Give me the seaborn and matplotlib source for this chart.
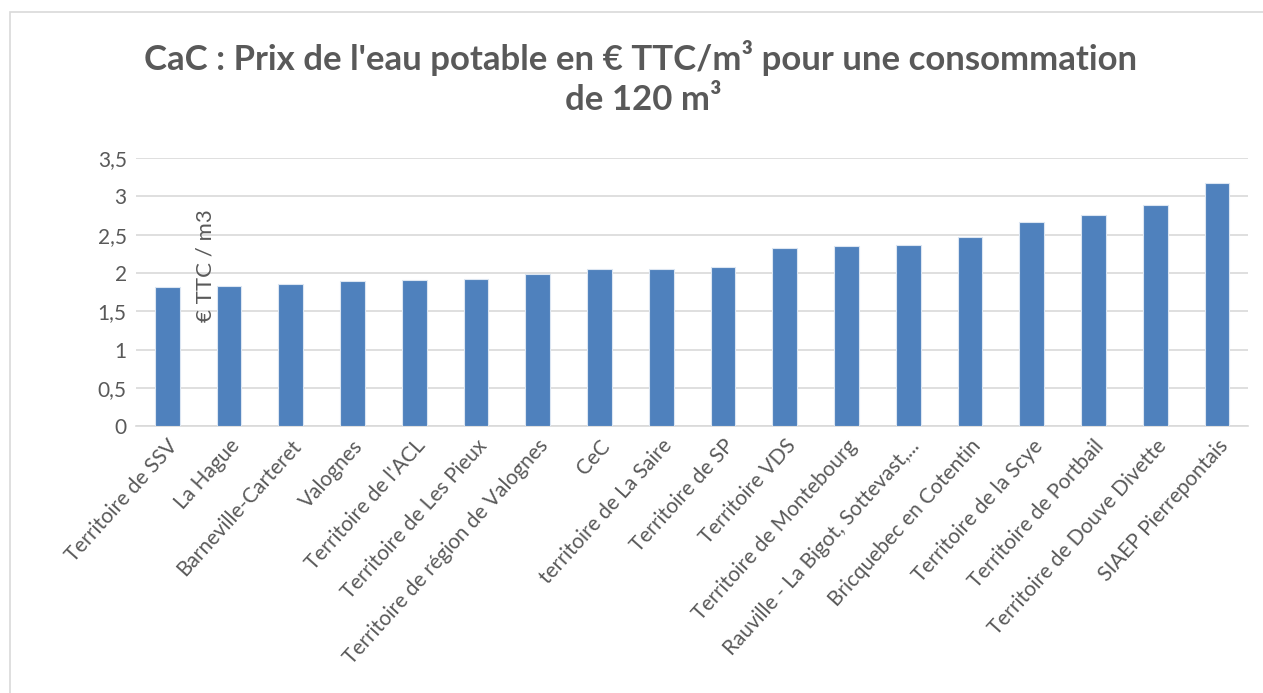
import matplotlib
matplotlib.use("Agg")
import matplotlib.pyplot as plt
import seaborn as sns
import pandas as pd
from matplotlib.patches import Rectangle

# Data
territoires = [
    "Territoire de SSV", "La Hague", "Barneville-Carteret", "Valognes",
    "Territoire de l'ACL", "Territoire de Les Pieux", "Territoire de région de Valognes",
    "CeC", "territoire de La Saire", "Territoire de SP", "Territoire VDS",
    "Territoire de Montebourg", "Rauville - La Bigot, Sottevast,...",
    "Bricquebec en Cotentin", "Territoire de la Scye", "Territoire de Portbail",
    "Territoire de Douve Divette", "SIAEP Pierrepontais",
]
prix = [1.82, 1.83, 1.86, 1.90, 1.91, 1.92, 1.99, 2.05, 2.05, 2.08,
        2.32, 2.35, 2.37, 2.47, 2.67, 2.75, 2.89, 3.17]
yticks = [0, 0.5, 1, 1.5, 2, 2.5, 3, 3.5]
ytick_labels = ["0", "0,5", "1", "1,5", "2", "2,5", "3", "3,5"]

df = pd.DataFrame({"territoire": territoires, "prix": prix})

sns.set_theme(style="white")
plt.rcParams["font.family"] = ["Lato", "DejaVu Sans"]
gray = "#595959"

fig = plt.figure(figsize=(12.63, 6.93), dpi=100)
ax = fig.add_axes([0.108, 0.385, 0.880, 0.387])

sns.barplot(data=df, x="territoire", y="prix", color="#4F81BD", saturation=1,
            width=0.4, edgecolor="#DCE6F2", linewidth=0.8, ax=ax, zorder=3)

ax.set_ylim(0, 3.5)
ax.set_yticks(yticks)
ax.set_yticklabels(ytick_labels, fontsize=15, color=gray)
ax.yaxis.grid(True, color="#D9D9D9", linewidth=1.2, zorder=0)
ax.set_axisbelow(True)
for s in ["top", "right", "left"]:
    ax.spines[s].set_visible(False)
ax.spines["bottom"].set_color("#D9D9D9")
ax.spines["bottom"].set_linewidth(1.2)
ax.tick_params(axis="both", length=0, pad=7)
ax.set_xlabel("")
ax.set_ylabel("")
ax.set_xticks(range(len(territoires)))
ax.set_xticklabels(territoires, rotation=48, ha="right", rotation_mode="anchor",
                   fontsize=15, color=gray)

# axis title placed inside the plot like the original
ax.text(0.062, 0.60, "€ TTC / m3", transform=ax.transAxes, rotation=90,
        ha="center", va="center", fontsize=16, color=gray)

fig.text(0.507, 0.917, "CaC : Prix de l'eau potable en € TTC/m³ pour une consommation",
         ha="center", va="center", fontsize=25, fontweight="bold", color=gray)
fig.text(0.509, 0.855, "de 120 m³", ha="center", va="center",
         fontsize=25, fontweight="bold", color=gray)

# chart border
fig.patches.append(Rectangle((0.008, -0.01), 1.0, 0.993, transform=fig.transFigure,
                             fill=False, edgecolor="#D9D9D9", linewidth=1.2))

fig.savefig("out.png", dpi=100)
